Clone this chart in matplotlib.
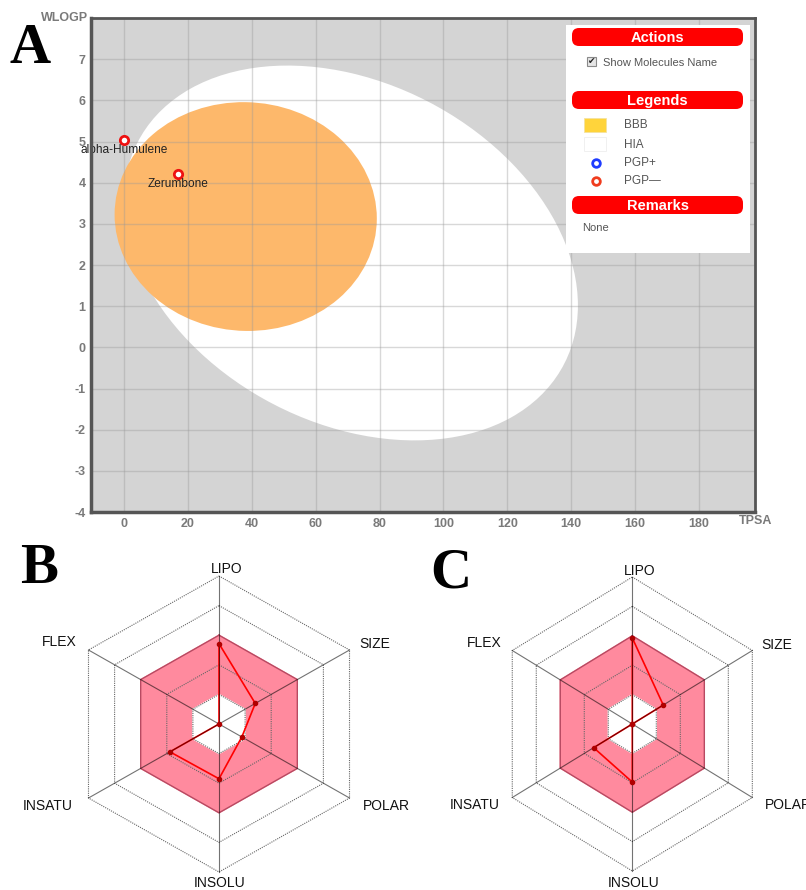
import numpy as np
import matplotlib
matplotlib.use("Agg")
import matplotlib.pyplot as plt
from matplotlib.patches import Ellipse, Rectangle, FancyBboxPatch

plt.rcParams['font.family'] = ['Liberation Sans', 'DejaVu Sans']
plt.rcParams['axes.unicode_minus'] = False

# --- BOILED-Egg data ---
molecules = ['alpha-Humulene', 'Zerumbone']
tpsa = [0.0, 17.07]
wlogp = [5.04, 4.21]

# ellipse definitions: centre (TPSA, WLOGP), full axes, rotation (deg)
hia_center = (71.051, 2.292)
hia_axes = (142.081, 8.740)
hia_angle = -1.031325
bbb_center = (38.117, 3.177)
bbb_axes = (82.061, 5.557)
bbb_angle = -0.066880

x_ticks = list(range(0, 181, 20))
y_ticks = list(range(-4, 8))

# --- bioavailability radar data (normalised 0..1) ---
radar_props = ['LIPO', 'SIZE', 'POLAR', 'INSOLU', 'INSATU', 'FLEX']
radar_angles = [90, 30, -30, -90, -150, 150]
zerumbone_radar = [0.543, 0.278, 0.175, 0.370, 0.376, 0.0]
humulene_radar = [0.585, 0.258, 0.0, 0.395, 0.322, 0.0]
radar_levels = [0.2, 0.4, 0.6, 0.8, 1.0]
optimal_range = (0.2, 0.6)

W, H = 806, 890
fig = plt.figure(figsize=(W / 100, H / 100), dpi=100)


def px_box(x0, y0, x1, y1):
    return [x0 / W, 1 - y1 / H, (x1 - x0) / W, (y1 - y0) / H]


# ---------------- panel A ----------------
ax = fig.add_axes(px_box(91, 18, 755, 512))
ax.set_facecolor('#d4d4d4')
ax.set_xlim(-10.3, 197.5)
ax.set_ylim(-4, 8)

ax.add_patch(Ellipse(hia_center, hia_axes[0], hia_axes[1], angle=hia_angle,
                     facecolor='white', edgecolor='none', zorder=1))
ax.add_patch(Ellipse(bbb_center, bbb_axes[0], bbb_axes[1], angle=bbb_angle,
                     facecolor='#fdb86b', edgecolor='none', zorder=2))

for xv in x_ticks:
    ax.axvline(xv, color='#999999', lw=1, alpha=0.38, zorder=3)
for yv in y_ticks:
    ax.axhline(yv, color='#999999', lw=1, alpha=0.38, zorder=3)

ax.plot(tpsa, wlogp, 'o', ms=6, mfc='white', mec='#ee1111', mew=2, ls='none', zorder=5)
for name, xv, yv in zip(molecules, tpsa, wlogp):
    ax.annotate(name, (xv, yv), xytext=(0, -7.5), textcoords='offset points',
                ha='center', va='center', fontsize=8.6, color='#222222', zorder=6)

ax.set_xticks(x_ticks)
ax.set_yticks(y_ticks)
ax.tick_params(length=0, pad=4, labelsize=9, labelcolor='#7a7a7a')
for lab in ax.get_xticklabels() + ax.get_yticklabels():
    lab.set_fontweight('bold')
for side, sp in ax.spines.items():
    sp.set_color('#555555')
    sp.set_linewidth(2.5 if side in ('left', 'bottom') else 2)
    sp.set_zorder(8)

# ---------------- radar panels ----------------
def draw_radar(rect, cx, cy, sx, sy, values, label_offsets):
    rx = fig.add_axes(px_box(*rect))
    x0, y0, x1, y1 = rect
    rx.set_xlim((x0 - cx) / sx, (x1 - cx) / sx)
    rx.set_ylim((cy - y1) / sy, (cy - y0) / sy)
    rx.axis('off')

    ang = np.radians(radar_angles)
    ux, uy = np.cos(ang), np.sin(ang)

    def hexagon(r):
        return np.append(ux * r, ux[0] * r), np.append(uy * r, uy[0] * r)

    hx, hy = hexagon(optimal_range[1])
    rx.fill(hx, hy, color='#ff8a9e', zorder=1)
    hx, hy = hexagon(optimal_range[0])
    rx.fill(hx, hy, color='white', zorder=1)

    for lev in radar_levels:
        hx, hy = hexagon(lev)
        if lev == optimal_range[1]:
            rx.plot(hx, hy, color='#b84a62', lw=1, zorder=2)
        else:
            rx.plot(hx, hy, color='#666666', lw=0.8, ls=(0, (1, 1)), zorder=2)

    vals = np.array(values)
    rx.plot(np.append(ux * vals, ux[0] * vals[0]), np.append(uy * vals, uy[0] * vals[0]),
            color='#ff0000', lw=1.2, zorder=3)

    for i in range(len(radar_props)):
        rx.plot([0, ux[i]], [0, uy[i]], color='black', lw=0.8, alpha=0.55, zorder=4)

    rx.plot(ux * vals, uy * vals, 'o', ms=3, color='#b00000', zorder=5)

    for prop, (dx, dy, ha) in zip(radar_props, label_offsets):
        rx.text(dx / sx, dy / sy, prop, ha=ha, va='center', fontsize=10, color='#111111')


draw_radar((0, 540, 403, 890), 219, 724, 150.7, 148, zerumbone_radar,
           [(8, 155, 'center'), (156, 80, 'center'), (144, -82, 'left'),
            (1, -159, 'center'), (-171, -82, 'center'), (-160, 82, 'center')])
draw_radar((403, 540, 806, 890), 632.3, 724, 138.6, 147, humulene_radar,
           [(7, 153, 'center'), (144, 79, 'center'), (133, -81, 'left'),
            (1, -159, 'center'), (-158, -81, 'center'), (-148, 81, 'center')])

# ---------------- overlay: legend box, axis titles, panel letters ----------------
ov = fig.add_axes([0, 0, 1, 1])
ov.set_xlim(0, W)
ov.set_ylim(H, 0)
ov.axis('off')

ov.add_patch(Rectangle((566, 25), 184, 228, facecolor='white', edgecolor='none'))
for title, y in [('Actions', 28), ('Legends', 91), ('Remarks', 196)]:
    ov.add_patch(FancyBboxPatch((572, y), 171, 18,
                                boxstyle='round,pad=0,rounding_size=7',
                                facecolor='#ff0000', edgecolor='none'))
    ov.text(657.5, y + 9.5, title, ha='center', va='center', fontsize=10.5,
            fontweight='bold', color='white')

ov.add_patch(Rectangle((587, 57), 9, 9, facecolor='#e6e6e6', edgecolor='#8a8a8a', lw=0.8))
ov.text(591.5, 61.5, '\u2714', ha='center', va='center', fontsize=6.5,
        color='#222222', family=['DejaVu Sans'])
ov.text(603, 63.5, 'Show Molecules Name', ha='left', va='center', fontsize=8, color='#555555')

ov.add_patch(Rectangle((584, 118), 22, 14, facecolor='#ffd43b', edgecolor='#f4e3a0', lw=0.6))
ov.add_patch(Rectangle((584, 137), 22, 14, facecolor='white', edgecolor='#eeeeee', lw=0.6))
ov.plot([596], [163], 'o', ms=5.5, mfc='white', mec='#1f3cff', mew=2)
ov.plot([596], [181], 'o', ms=5.5, mfc='white', mec='#f03c1e', mew=2)
for label, y in [('BBB', 125), ('HIA', 144.5), ('PGP+', 163), ('PGP\u2014', 181)]:
    ov.text(624, y, label, ha='left', va='center', fontsize=8.5, color='#555555')
ov.text(582, 228, 'None', ha='left', va='center', fontsize=8, color='#555555')

ov.text(88, 18, 'WLOGP', ha='right', va='center', fontsize=9, fontweight='bold', color='#7a7a7a')
ov.text(739, 521, 'TPSA', ha='left', va='center', fontsize=9, fontweight='bold', color='#7a7a7a')

for letter, x, y in [('A', 30, 49), ('B', 39, 569), ('C', 451, 573)]:
    ov.text(x, y, letter, ha='center', va='center', fontsize=41, fontweight='bold',
            color='black', family=['Liberation Serif', 'DejaVu Serif'])

fig.savefig('out.png', dpi=100)
